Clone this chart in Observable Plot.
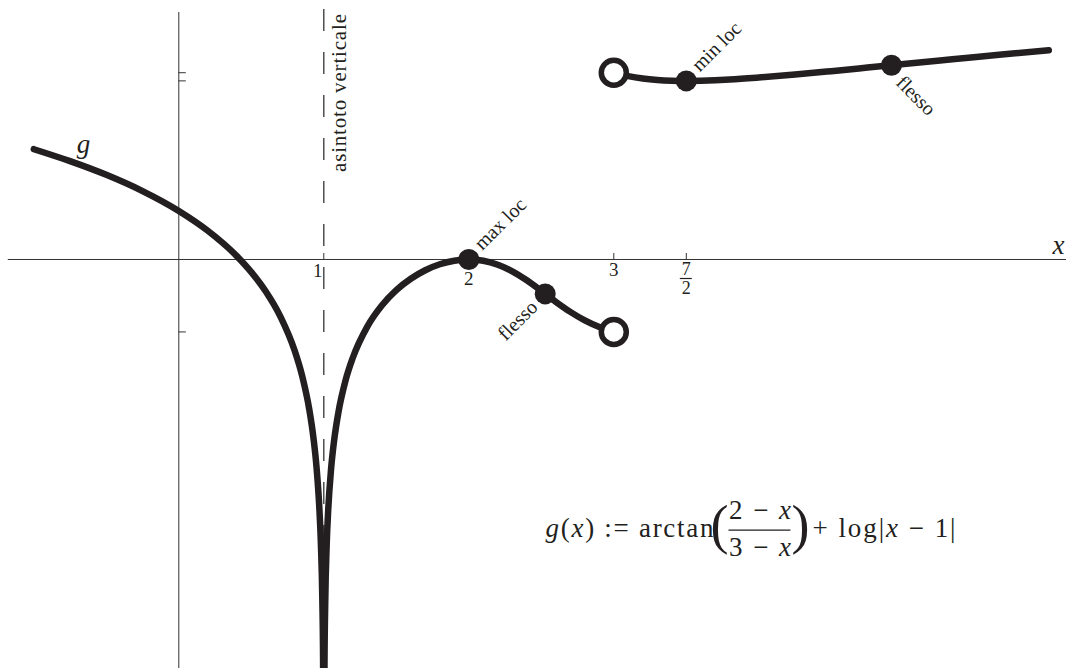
<!DOCTYPE html>
<html>
<head>
<meta charset="utf-8">
<script src="https://cdn.jsdelivr.net/npm/d3@7"></script>
<script src="https://cdn.jsdelivr.net/npm/@observablehq/plot@0.6"></script>
<style>
  html, body { margin: 0; padding: 0; background: #fff; overflow: hidden; }
  #chart svg { display: block; }
  #chart svg text { font-family: "Liberation Serif", "Times New Roman", "DejaVu Serif", serif !important; }
</style>
</head>
<body>
<div id="chart"></div>
<script>
// g(x) = arctan((2 - x)/(3 - x)) + log|x - 1|, one sampled list per branch of the domain
const leftX = [-1, -0.75, -0.5, -0.25, 0, 0.2, 0.4, 0.5, 0.6, 0.7, 0.8, 0.85, 0.9, 0.93, 0.95, 0.97, 0.98, 0.99, 0.995, 0.998];
const leftY = [1.337, 1.192, 1.026, 0.829, 0.588, 0.348, 0.041, -0.153, -0.388, -0.689, -1.110, -1.406, -1.820, -2.182, -2.522, -3.037, -3.444, -4.140, -4.834, -5.751];

const midX = [1.002, 1.005, 1.01, 1.02, 1.03, 1.05, 1.07, 1.1, 1.15, 1.2, 1.3, 1.4, 1.5, 1.6, 1.7, 1.8, 1.9, 2, 2.1, 2.2, 2.3, 2.4, 2.5, 2.6, 2.7, 2.8, 2.9, 2.95, 3];
const midY = [-5.751, -4.836, -4.144, -3.452, -3.049, -2.542, -2.210, -1.860, -1.466, -1.191, -0.813, -0.558, -0.371, -0.233, -0.130, -0.058, -0.015, 0, -0.015, -0.063, -0.143, -0.252, -0.380, -0.513, -0.635, -0.738, -0.818, -0.850, -0.878];

const rightX = [3, 3.05, 3.1, 3.2, 3.3, 3.4, 3.5, 3.6, 3.8, 4, 4.25, 4.5, 4.75, 5, 5.25, 5.5, 5.75, 6];
const rightY = [2.264, 2.241, 2.222, 2.194, 2.177, 2.168, 2.165, 2.168, 2.182, 2.206, 2.242, 2.283, 2.326, 2.369, 2.412, 2.455, 2.496, 2.537];

// notable points
const extremaX = [2, 3.5];
const extremaY = [0, 2.165];
const extremaLabels = ["max loc", "min loc"];
const inflectionX = [2.527, 4.915];
const inflectionY = [-0.417, 2.354];
const inflectionLabels = ["flesso", "flesso"];
const holeX = [3, 3];
const holeY = [-0.878, 2.264];

// axes
const asymptoteX = 1;
const asymptoteLabel = "asintoto verticale";
const xTickValues = [1, 2, 3, 3.5];
const yTickValues = [2.264, 2.165, -0.878];
const formula = ["*g*(*x*) := arctan", "(", "2 − *x*", "3 − *x*", ")", "+ log|*x* − 1|"];

const ink = "#231f20";
const axisInk = "#333";
const serif = "Liberation Serif";
const W = 1066, H = 668;
const xDomain = [-1.2297, 6.1221];
const yDomain = [-4.9576, 3.1394];
const kx = W / (xDomain[1] - xDomain[0]);
const ky = H / (yDomain[1] - yDomain[0]);

const curve = [
  ...leftX.map((x, i) => ({branch: "left", x, y: leftY[i]})),
  ...midX.map((x, i) => ({branch: "mid", x, y: midY[i]})),
  ...rightX.map((x, i) => ({branch: "right", x, y: rightY[i]}))
];
const extrema = extremaX.map((x, i) => ({x, y: extremaY[i], label: extremaLabels[i]}));
const inflections = inflectionX.map((x, i) => ({x, y: inflectionY[i], label: inflectionLabels[i]}));
const holes = holeX.map((x, i) => ({x, y: holeY[i]}));

// anchor of the formula box, in data units
const fAt = [{x: 2.529, y: -3.259}];
const fSize = 27;

const svg = Plot.plot({
  width: W,
  height: H,
  margin: 0,
  x: {domain: xDomain, axis: null},
  y: {domain: yDomain, axis: null},
  style: {background: "#fff", fontFamily: serif, color: ink},
  marks: [
    // coordinate axes
    Plot.ruleY([0], {x1: -1.176, x2: 6.2, stroke: axisInk, strokeWidth: 1}),
    Plot.ruleX([0], {y1: yDomain[0], y2: 2.994, stroke: axisInk, strokeWidth: 1}),
    Plot.ruleX(xTickValues, {y1: 0, y2: 6 / ky, stroke: axisInk, strokeWidth: 1}),
    Plot.ruleY(yTickValues, {x1: 0, x2: 7.5 / kx, stroke: axisInk, strokeWidth: 1}),

    // vertical asymptote
    Plot.ruleX([asymptoteX], {stroke: axisInk, strokeWidth: 1.3, strokeDasharray: "22,21", strokeDashoffset: 34}),
    Plot.text([asymptoteLabel], {x: asymptoteX, y: 2.018, text: d => d, rotate: -90, dx: 15, fontSize: 21, fontFamily: serif, fill: ink}),

    // tick labels
    Plot.text([xTickValues[0]], {x: d => d, y: 0, text: d => String(d), dx: -6, dy: 11, fontSize: 19, fontFamily: serif, fill: ink}),
    Plot.text([xTickValues[1]], {x: d => d, y: 0, text: d => String(d), dy: 19, fontSize: 19, fontFamily: serif, fill: ink}),
    Plot.text([xTickValues[2]], {x: d => d, y: 0, text: d => String(d), dy: 10, fontSize: 19, fontFamily: serif, fill: ink}),
    Plot.text([xTickValues[3]], {x: d => d, y: 0, text: () => "7", dy: 10, fontSize: 18, fontFamily: serif, fill: ink}),
    Plot.ruleY([0], {x1: xTickValues[3] - 6 / kx, x2: xTickValues[3] + 6 / kx, dy: 19, stroke: ink, strokeWidth: 1.2}),
    Plot.text([xTickValues[3]], {x: d => d, y: 0, text: () => "2", dy: 29, fontSize: 18, fontFamily: serif, fill: ink}),

    // axis and curve names
    Plot.text(["x"], {x: 6.025, y: 0.177, text: d => d, textAnchor: "start", fontSize: fSize, fontStyle: "italic", fontFamily: serif, fill: ink}),
    Plot.text(["g"], {x: -0.657, y: 1.392, text: d => d, fontSize: fSize, fontStyle: "italic", fontFamily: serif, fill: ink}),

    // the graph
    Plot.line(curve, {x: "x", y: "y", z: "branch", stroke: ink, strokeWidth: 6.5, curve: "monotone-x", strokeLinecap: "round", strokeLinejoin: "round", clip: true}),
    Plot.dot(holes, {x: "x", y: "y", r: 12.5, fill: "#fff", stroke: ink, strokeWidth: 5.5}),
    Plot.dot(extrema.concat(inflections), {x: "x", y: "y", r: 10.5, fill: ink}),

    // point labels
    Plot.text(extrema, {x: "x", y: "y", text: "label", rotate: -45, textAnchor: "start", dx: 9, dy: -13, fontSize: 20, fontFamily: serif, fill: ink}),
    Plot.text([inflections[0]], {x: "x", y: "y", text: "label", rotate: -45, textAnchor: "end", dx: -11, dy: 10, fontSize: 20, fontFamily: serif, fill: ink}),
    Plot.text([inflections[1]], {x: "x", y: "y", text: "label", rotate: 45, textAnchor: "start", dx: 8, dy: 14, fontSize: 20, fontFamily: serif, fill: ink}),

    // definition of g
    Plot.text(fAt, {x: "x", y: "y", text: () => formula[0], textAnchor: "start", fontSize: fSize, fontFamily: serif, fill: ink}),
    Plot.text(fAt, {x: "x", y: "y", text: () => formula[1], dx: 174, dy: -2.4, fontSize: 54, fontFamily: serif, fill: ink}),
    Plot.text(fAt, {x: "x", y: "y", text: () => formula[2], dx: 214.5, dy: -18.3, fontSize: fSize, fontFamily: serif, fill: ink}),
    Plot.ruleY(fAt, {y: "y", x1: d => d.x + 183.5 / kx, x2: d => d.x + 245.4 / kx, dy: 1.85, stroke: ink, strokeWidth: 1.2}),
    Plot.text(fAt, {x: "x", y: "y", text: () => formula[3], dx: 214.5, dy: 18.5, fontSize: fSize, fontFamily: serif, fill: ink}),
    Plot.text(fAt, {x: "x", y: "y", text: () => formula[4], dx: 255, dy: -2.4, fontSize: 54, fontFamily: serif, fill: ink}),
    Plot.text(fAt, {x: "x", y: "y", text: () => formula[5], textAnchor: "start", dx: 267, fontSize: fSize, fontFamily: serif, fill: ink})
  ]
});

// typeset widths and math italics
const widths = new Map([
  [asymptoteLabel, 158],
  [formula[0], 168],
  [formula[2], 62],
  [formula[3], 62],
  [formula[5], 143]
]);
const NS = "http://www.w3.org/2000/svg";
d3.select(svg).selectAll("text").each(function () {
  const t = this.textContent;
  if (widths.has(t)) {
    this.setAttribute("textLength", widths.get(t));
    this.setAttribute("lengthAdjust", "spacing");
  }
  if (t.includes("*")) {
    const parts = t.split("*");
    this.textContent = "";
    parts.forEach((p, i) => {
      if (!p) return;
      const ts = document.createElementNS(NS, "tspan");
      ts.textContent = p;
      if (i % 2) ts.setAttribute("font-style", "italic");
      this.appendChild(ts);
    });
  }
});

document.getElementById("chart").appendChild(svg);
</script>
</body>
</html>
